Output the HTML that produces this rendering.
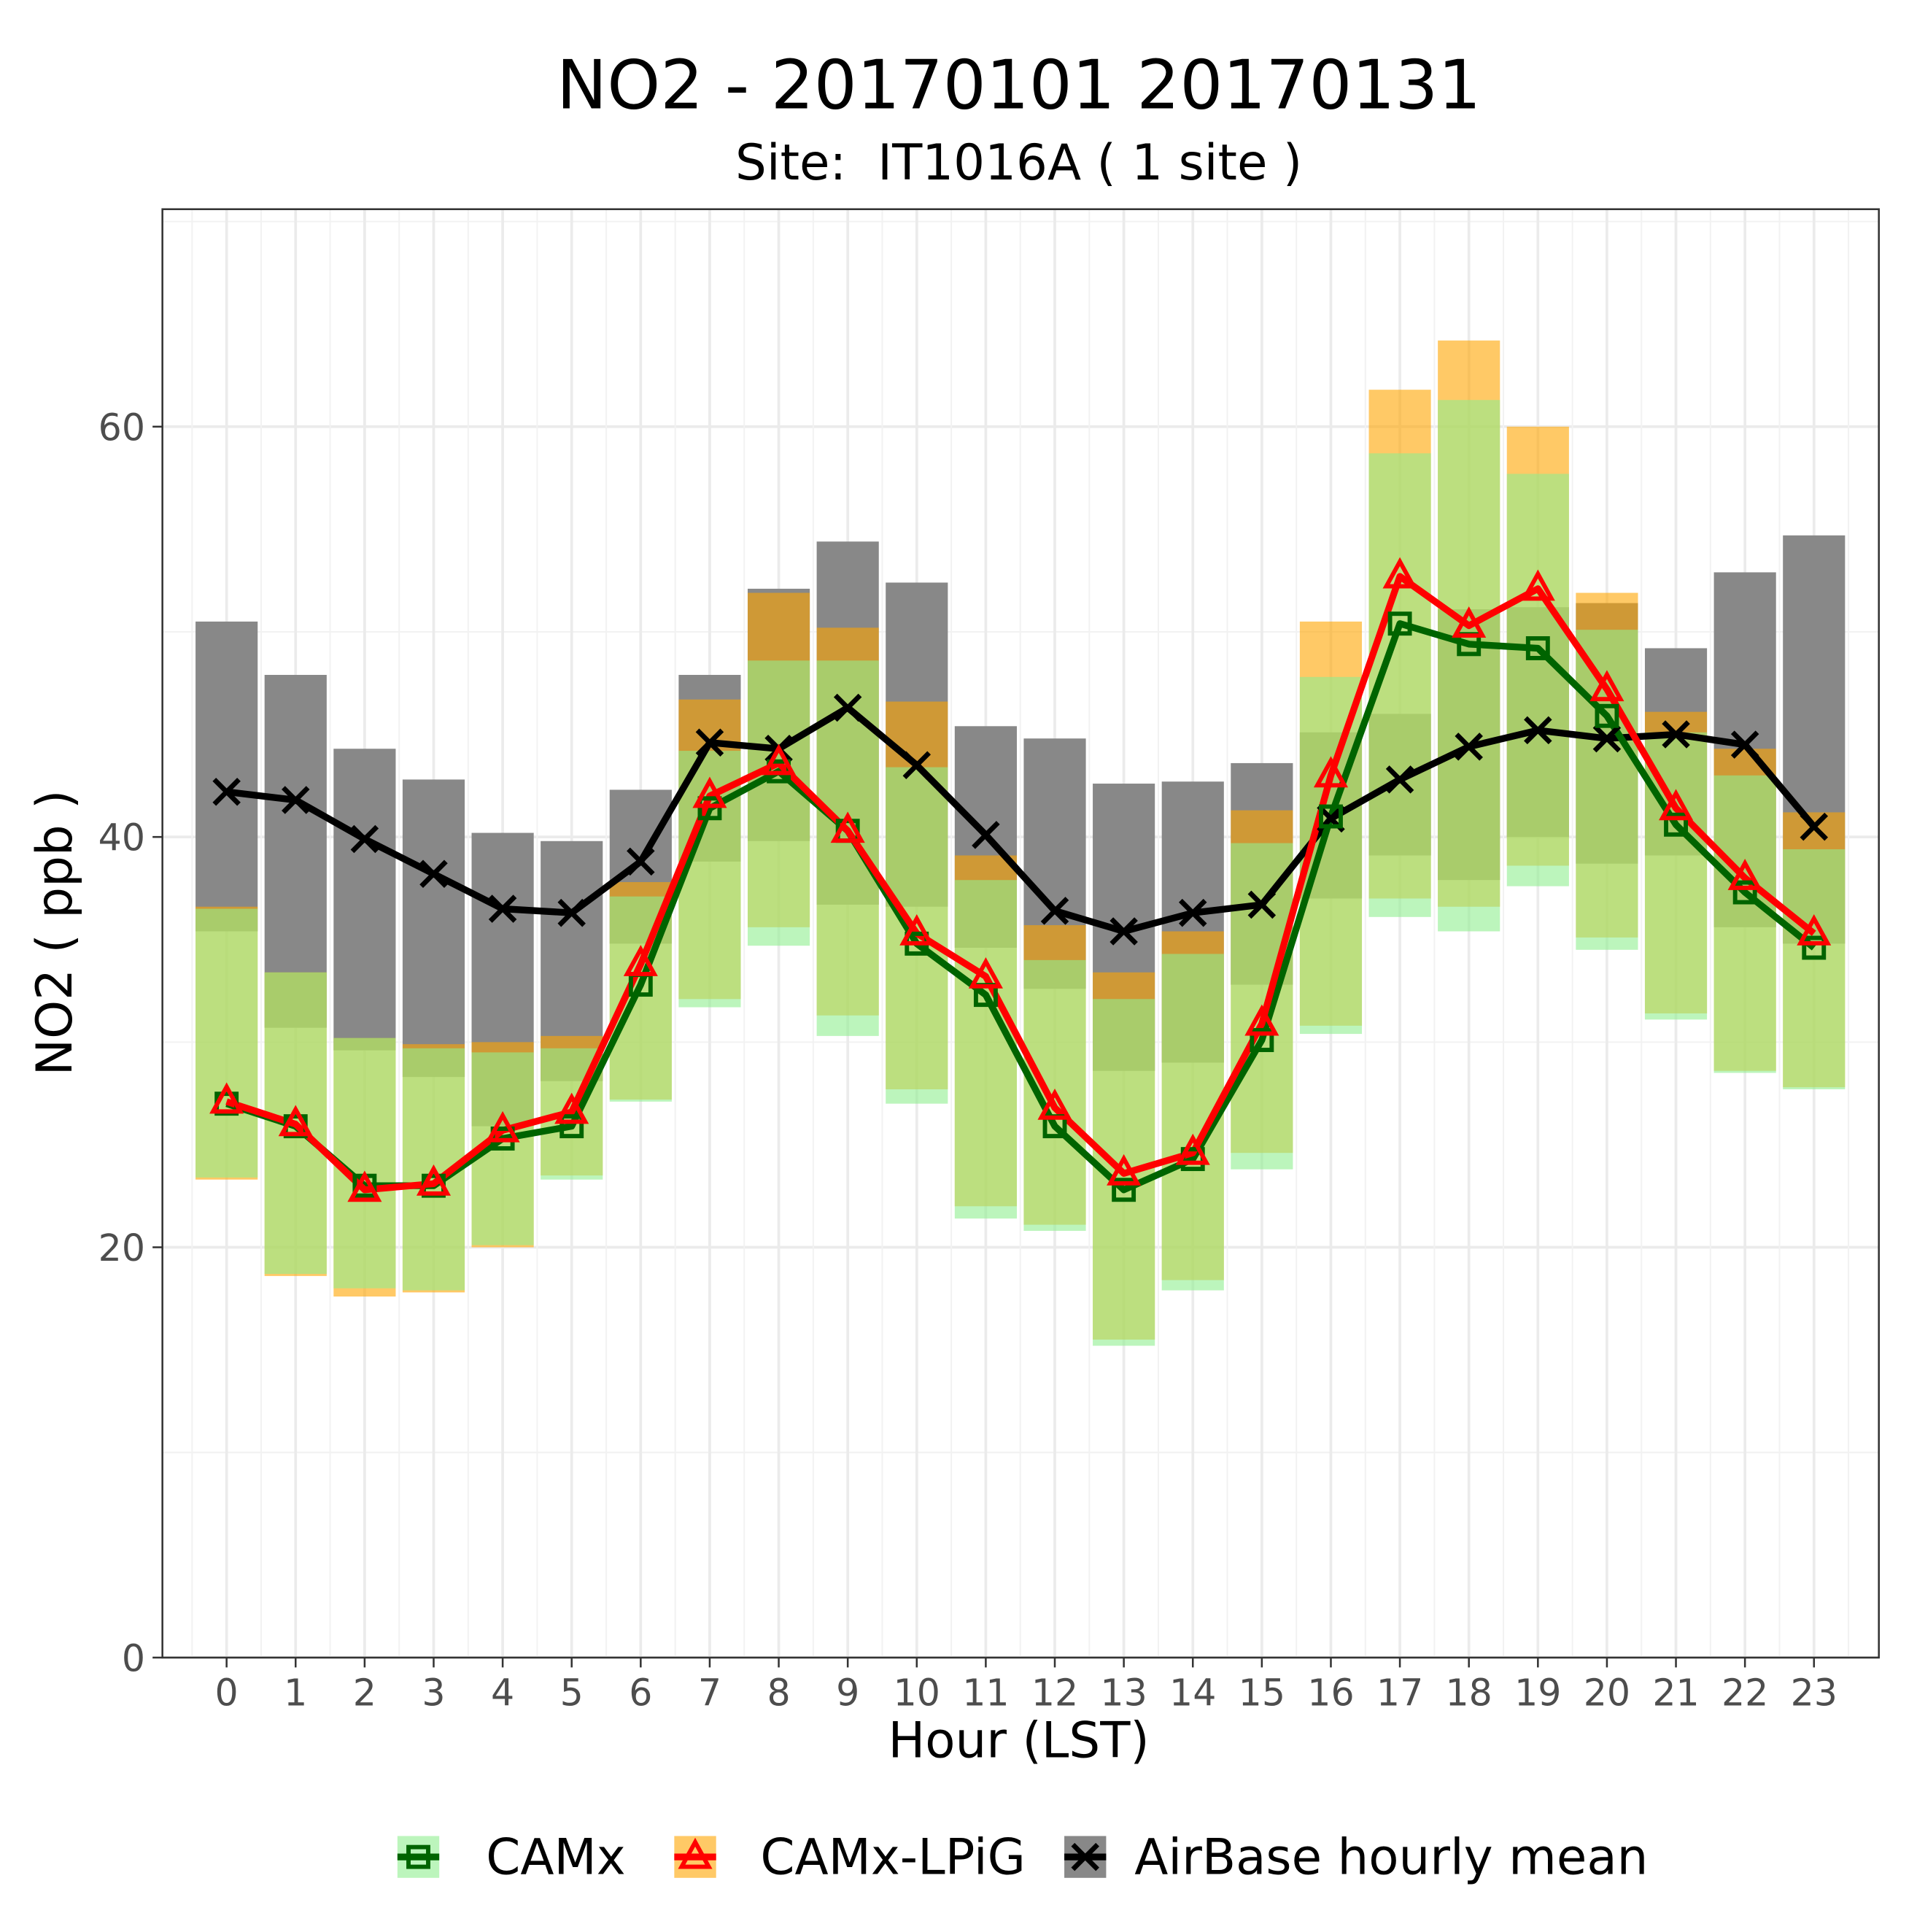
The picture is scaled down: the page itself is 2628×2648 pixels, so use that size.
<!DOCTYPE html>
<html><head><meta charset="utf-8"><style>
html,body{margin:0;padding:0;background:#fff;}
svg{display:block;font-family:"DejaVu Sans","Liberation Sans",sans-serif;}
</style></head><body>
<svg id="chart" width="2628" height="2648" viewBox="0 0 1558 1570" preserveAspectRatio="none" xmlns="http://www.w3.org/2000/svg">
<rect x="0" y="0" width="1558" height="1570" fill="#fff"/>
<text x="828" y="88" font-size="55" text-anchor="middle" fill="#000">NO2 - 20170101 20170131</text>
<text x="828" y="146" font-size="40" text-anchor="middle" fill="#000">Site:&#160; IT1016A ( 1 site )</text>
<g id="grid"></g>
<g id="bars"></g>
<g id="lines"></g>
<rect x="132" y="170" width="1395" height="1177" fill="none" stroke="#333" stroke-width="1.5"/>
<g id="axes"></g>
<text x="828" y="1428" font-size="40" text-anchor="middle" fill="#000">Hour (LST)</text>
<text transform="translate(58,758) rotate(-90)" font-size="40" text-anchor="middle" fill="#000">NO2 ( ppb )</text>
<g id="legend"></g>
</svg>
<script>
const hours = [0,1,2,3,4,5,6,7,8,9,10,11,12,13,14,15,16,17,18,19,20,21,22,23];
const yTicks = [0,20,40,60];
const camxMean = [27.0,25.9,23.0,23.0,25.3,25.9,32.8,41.4,43.2,40.3,34.8,32.3,25.9,22.8,24.3,30.1,41.0,50.4,49.4,49.2,45.9,40.6,37.3,34.6];
const lpigMean = [27.1,26.0,22.8,23.1,25.7,26.6,33.8,42.0,43.6,40.3,35.3,33.2,26.8,23.6,24.6,30.9,43.0,52.7,50.3,52.1,47.2,41.4,38.0,35.3];
const obsMean  = [42.2,41.8,39.9,38.2,36.5,36.3,38.8,44.6,44.3,46.3,43.5,40.1,36.4,35.4,36.3,36.7,40.9,42.8,44.4,45.2,44.8,45.0,44.5,40.5];
const obsLo  = [35.4,30.7,29.6,28.3,25.9,28.1,34.8,38.8,39.8,36.7,36.6,34.6,32.6,28.6,29.0,32.8,37.0,39.1,37.9,40.0,38.7,39.1,35.6,34.8];
const obsHi  = [50.5,47.9,44.3,42.8,40.2,39.8,42.3,47.9,52.1,54.4,52.4,45.4,44.8,42.6,42.7,43.6,45.1,46.0,51.1,51.2,51.4,49.2,52.9,54.7];
const lpigLo = [23.3,18.6,17.6,17.8,20.0,23.5,27.2,32.1,35.6,31.3,27.7,22.0,21.1,15.5,18.4,24.6,30.8,37.0,36.6,38.6,35.1,31.4,28.6,27.8];
const lpigHi = [36.6,33.4,30.2,29.9,30.0,30.3,37.8,46.7,51.9,50.2,46.6,39.1,35.7,33.4,35.4,41.3,50.5,61.8,64.2,60.0,51.9,46.1,44.3,41.2];
const camxLo = [23.4,18.7,18.0,17.9,20.1,23.3,27.1,31.7,34.7,30.3,27.0,21.4,20.8,15.2,17.9,23.8,30.4,36.1,35.4,37.6,34.5,31.1,28.5,27.7];
const camxHi = [36.5,33.4,30.2,29.7,29.5,29.7,37.1,44.2,48.6,48.6,43.4,37.9,34.0,32.1,34.3,39.7,47.8,58.7,61.3,57.7,50.1,45.1,43.0,39.4];

const NS = "http://www.w3.org/2000/svg";
const X0 = 132, X1 = 1527, Y0 = 170, Y1 = 1347;
const xmin = -0.93, xmax = 23.94, ymin = 0, ymax = 70.6;
function sx(h){ return X0 + (h - xmin) / (xmax - xmin) * (X1 - X0); }
function sy(v){ return Y1 - (v - ymin) / (ymax - ymin) * (Y1 - Y0); }
function mk(tag, attrs, parent){ const e = document.createElementNS(NS, tag); for (const k in attrs) e.setAttribute(k, attrs[k]); parent.appendChild(e); return e; }

const grid = document.getElementById('grid');
for (let v = 10; v <= 70; v += 20) {
  const l = mk('line', {x1:X0, x2:X1, y1:sy(v), y2:sy(v), stroke:'#f2f2f2', 'stroke-width':1.2}, grid);
  
  
}
yTicks.forEach(v => {
  const l = mk('line', {x1:X0, x2:X1, y1:sy(v), y2:sy(v), stroke:'#ebebeb', 'stroke-width':2.2}, grid);
  
  
});
for (let h = -0.5; h <= 23.5; h += 1) {
  const l = mk('line', {x1:sx(h), x2:sx(h), y1:Y0, y2:Y1, stroke:'#f2f2f2', 'stroke-width':1.2}, grid);
  
  
}
hours.forEach(h => {
  const l = mk('line', {x1:sx(h), x2:sx(h), y1:Y0, y2:Y1, stroke:'#ebebeb', 'stroke-width':2.2}, grid);
  
  
});

const bars = document.getElementById('bars');
const bw = 0.9 * (sx(1) - sx(0));
function drawBars(lo, hi, fill, op, name){
  hours.forEach((h, i) => {
    const y1 = sy(hi[i]), y2 = sy(lo[i]);
    const r = mk('rect', {x:sx(h) - bw/2, y:y1, width:bw, height:y2 - y1, fill:fill, 'fill-opacity':op}, bars);
    
    
  });
}
drawBars(obsLo, obsHi, '#888888', 1, 'airbase');
drawBars(lpigLo, lpigHi, '#ffa500', 0.6, 'camx-lpig');
drawBars(camxLo, camxHi, '#90ee90', 0.6, 'camx');

const lines = document.getElementById('lines');
function drawLine(vals, color, name){
  const pts = hours.map((h, i) => sx(h) + ',' + sy(vals[i])).join(' ');
  const p = mk('polyline', {points:pts, fill:'none', stroke:color, 'stroke-width':5.5, 'stroke-linejoin':'round'}, lines);
  
  
}
function square(cx, cy, color, parent){ return mk('rect', {x:cx-8, y:cy-8, width:16, height:16, fill:'none', stroke:color, 'stroke-width':3.5}, parent); }
function tri(cx, cy, color, parent){ return mk('polygon', {points:`${cx},${cy-12} ${cx-11},${cy+8} ${cx+11},${cy+8}`, fill:'none', stroke:color, 'stroke-width':3.5}, parent); }
function cross(cx, cy, color, parent){ return mk('path', {d:`M${cx-10},${cy-10}L${cx+10},${cy+10}M${cx-10},${cy+10}L${cx+10},${cy-10}`, stroke:color, 'stroke-width':4, fill:'none'}, parent); }
drawLine(obsMean, '#000', 'airbase');
drawLine(camxMean, '#006400', 'camx');
drawLine(lpigMean, '#ff0000', 'camx-lpig');
hours.forEach((h, i) => {
  const a = cross(sx(h), sy(obsMean[i]), '#000', lines);
  
  
  const b = square(sx(h), sy(camxMean[i]), '#006400', lines);
  
  
  const c = tri(sx(h), sy(lpigMean[i]), '#ff0000', lines);
  
  
});

const axes = document.getElementById('axes');
yTicks.forEach(v => {
  const t = mk('line', {x1:X0-8, x2:X0, y1:sy(v), y2:sy(v), stroke:'#333', 'stroke-width':1.5}, axes);
  
  
  const l = mk('text', {x:X0-14, y:sy(v)+11, 'font-size':30, 'text-anchor':'end', fill:'#4d4d4d'}, axes);
  l.textContent = v;
  
  
});
hours.forEach(h => {
  const t = mk('line', {x1:sx(h), x2:sx(h), y1:Y1, y2:Y1+8, stroke:'#333', 'stroke-width':1.5}, axes);
  
  
  const l = mk('text', {x:sx(h), y:1386, 'font-size':30, 'text-anchor':'middle', fill:'#4d4d4d'}, axes);
  l.textContent = h;
  
  
});

const legend = document.getElementById('legend');
const legItems = [
  {name:'camx', label:'CAMx', kx:340, tx:395, fill:'#90ee90', op:0.6, col:'#006400', m:square},
  {name:'camx-lpig', label:'CAMx-LPiG', kx:565, tx:618, fill:'#ffa500', op:0.6, col:'#ff0000', m:tri},
  {name:'airbase', label:'AirBase hourly mean', kx:882, tx:922, fill:'#888888', op:1, col:'#000', m:cross}
];
legItems.forEach(it => {
  const g = mk('g', {}, legend);
  
  
  mk('rect', {x:it.kx-17, y:1492, width:34, height:34, fill:it.fill, 'fill-opacity':it.op}, g);
  mk('line', {x1:it.kx-17, x2:it.kx+17, y1:1509, y2:1509, stroke:it.col, 'stroke-width':5.5}, g);
  it.m(it.kx, 1509, it.col, g);
  const t = mk('text', {x:it.tx, y:1523, 'font-size':40, fill:'#000'}, g);
  t.textContent = it.label;
});
</script>
</body></html>
